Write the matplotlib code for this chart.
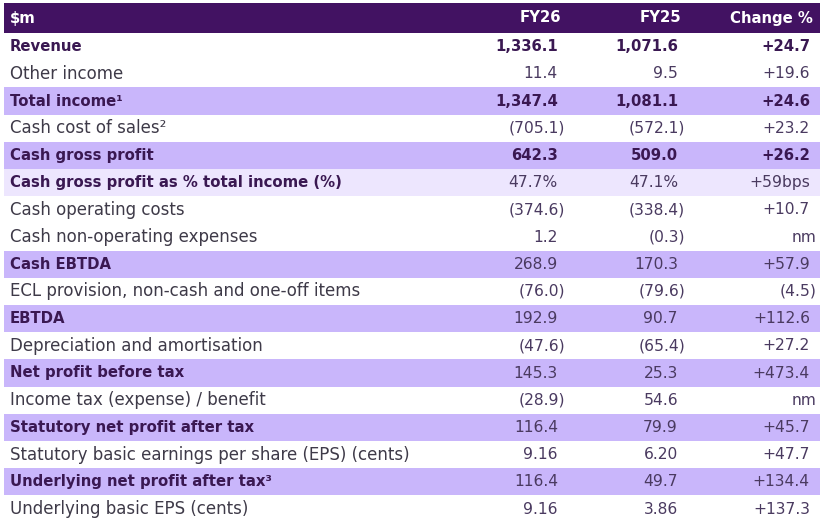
import matplotlib
matplotlib.use("Agg")
import matplotlib.pyplot as plt

# table data
headers = ["$m", "FY26", "FY25", "Change %"]
labels = [
    "Revenue",
    "Other income",
    "Total income\u00b9",
    "Cash cost of sales\u00b2",
    "Cash gross profit",
    "Cash gross profit as % total income (%)",
    "Cash operating costs",
    "Cash non-operating expenses",
    "Cash EBTDA",
    "ECL provision, non-cash and one-off items",
    "EBTDA",
    "Depreciation and amortisation",
    "Net profit before tax",
    "Income tax (expense) / benefit",
    "Statutory net profit after tax",
    "Statutory basic earnings per share (EPS) (cents)",
    "Underlying net profit after tax\u00b3",
    "Underlying basic EPS (cents)",
]
fy26 = ["1,336.1", "11.4", "1,347.4", "(705.1)", "642.3", "47.7%", "(374.6)", "1.2",
        "268.9", "(76.0)", "192.9", "(47.6)", "145.3", "(28.9)", "116.4", "9.16",
        "116.4", "9.16"]
fy25 = ["1,071.6", "9.5", "1,081.1", "(572.1)", "509.0", "47.1%", "(338.4)", "(0.3)",
        "170.3", "(79.6)", "90.7", "(65.4)", "25.3", "54.6", "79.9", "6.20",
        "49.7", "3.86"]
change = ["+24.7", "+19.6", "+24.6", "+23.2", "+26.2", "+59bps", "+10.7", "nm",
          "+57.9", "(4.5)", "+112.6", "+27.2", "+473.4", "nm", "+45.7", "+47.7",
          "+134.4", "+137.3"]
# row shading: 0 none, 1 purple, 2 light purple
shade = [0, 0, 1, 0, 1, 2, 0, 0, 1, 0, 1, 0, 1, 0, 1, 0, 1, 0]
label_bold = [1, 0, 1, 0, 1, 1, 0, 0, 1, 0, 1, 0, 1, 0, 1, 0, 1, 0]
value_bold = [1, 0, 1, 0, 1, 0, 0, 0, 0, 0, 0, 0, 0, 0, 0, 0, 0, 0]

W, H = 823, 523
fig = plt.figure(figsize=(W / 100, H / 100), dpi=100)
ax = fig.add_axes([0, 0, 1, 1])
ax.set_xlim(0, W)
ax.set_ylim(H, 0)
ax.axis("off")

plt.rcParams["font.family"] = ["DejaVu Sans"]

header_bg = "#421262"
band_colors = {1: "#c9b6fb", 2: "#ede6fe"}
bold_col = "#3a1852"
text_col = "#3e3a48"
val_col = "#4a3a60"

left, right = 4, 820
top = 3
head_h = 30
row_h = 27.2
fs_lab = 12.0
fs_lab_b = 10.7
fs_val = 11.2
fs_val_b = 10.7
col_x = [10, 558, 678, 810]

ax.axhspan(top, top + head_h, xmin=left / W, xmax=right / W, color=header_bg, lw=0)
hy = top + head_h / 2
ax.text(col_x[0], hy, headers[0], color="white", fontsize=fs_val_b, fontweight="heavy",
        va="center", ha="left")
for x, h in zip(col_x[1:], headers[1:]):
    ax.text(x + 3, hy, h, color="white", fontsize=fs_val_b, fontweight="heavy",
            va="center", ha="right")


def hang(s):
    # accounting style: closing bracket hangs past the column edge
    return 7 if s.endswith(")") or s == "nm" else 0


for i, lab in enumerate(labels):
    y0 = top + head_h + i * row_h
    yc = y0 + row_h / 2
    if shade[i]:
        ax.axhspan(y0, y0 + row_h, xmin=left / W, xmax=right / W,
                   color=band_colors[shade[i]], lw=0)
    if label_bold[i]:
        ax.text(col_x[0], yc, lab, fontsize=fs_lab_b, va="center", ha="left",
                color=bold_col, fontweight="bold")
    else:
        ax.text(col_x[0], yc, lab, fontsize=fs_lab, va="center", ha="left",
                color=text_col)
    for x, v in zip(col_x[1:], [fy26[i], fy25[i], change[i]]):
        if value_bold[i]:
            ax.text(x, yc, v, fontsize=fs_val_b, va="center", ha="right",
                    color=bold_col, fontweight="bold")
        else:
            ax.text(x + hang(v), yc, v, fontsize=fs_val, va="center", ha="right",
                    color=val_col)

fig.savefig("out.png", dpi=100, facecolor="white")
